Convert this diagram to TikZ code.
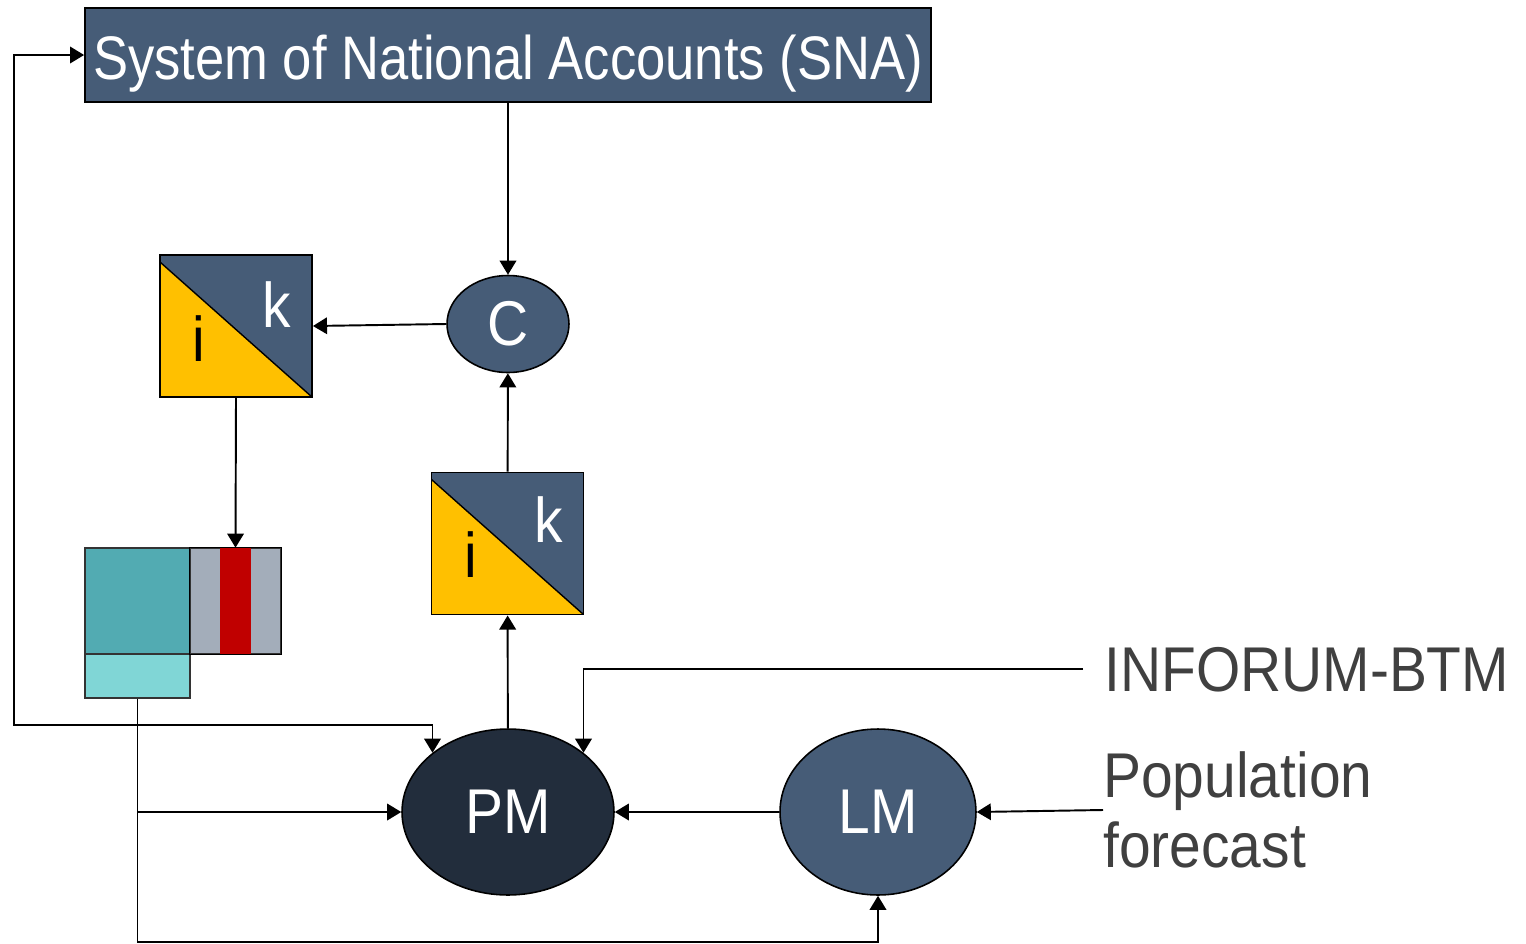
\documentclass[tikz,border=0pt]{standalone}
\usepackage{fontspec}
\setmainfont[FakeStretch=0.9]{Liberation Sans}
\newfontfamily\snafont[FakeStretch=0.855]{Liberation Sans}
\usepackage{xcolor}
\definecolor{SNAslate}{HTML}{465C77}
\definecolor{PMnavy}{HTML}{222D3C}
\definecolor{IKyellow}{HTML}{FFC000}
\definecolor{MATteal}{HTML}{52ABB2}
\definecolor{MATlight}{HTML}{80D6D6}
\definecolor{MATgray}{HTML}{A3ADBA}
\definecolor{MATred}{HTML}{C00000}
\definecolor{TXTgray}{HTML}{404040}
\usetikzlibrary{arrows.meta, shapes.geometric, positioning}

\tikzset{
  arr/.style={-{Triangle[length=8pt,width=9.4pt]}, line width=1.1pt},
  model/.style={ellipse, draw=black, line width=0.9pt, inner sep=0pt,
    text=white, font=\fontsize{36}{40}\selectfont},
  ikbox/.style={rectangle, draw=black, line width=1.1pt, fill=SNAslate,
    minimum width=3.04cm, minimum height=2.84cm,
    path picture={
      \fill[IKyellow] ([yshift=-0.14cm]path picture bounding box.north west)
        -- (path picture bounding box.south west)
        -- (path picture bounding box.south east) -- cycle;
      \draw[line width=0.8pt] ([yshift=-0.14cm]path picture bounding box.north west)
        -- (path picture bounding box.south east);}},
  letter/.style={inner sep=0pt, font=\fontsize{36}{40}\selectfont},
  matcell/.style={rectangle, draw=black!80, line width=0.8pt, inner sep=0pt},
  sidetext/.style={text=TXTgray, font=\fontsize{36}{40}\selectfont},
}

\begin{document}
\begin{tikzpicture}[x=0.02cm, y=-0.02cm]
    \useasboundingbox (0,0) rectangle (1526,944);
    % SNA
    \node[rectangle, draw=black, line width=1.1pt, fill=SNAslate, text=white,
      minimum width=16.92cm, minimum height=1.88cm, inner sep=0pt,
      text height=28pt, text depth=0pt,
      font=\snafont\fontsize{35}{40}\selectfont] (sna) at (508,55)
      {System of National Accounts (SNA)};
    % Models
    \node[model, fill=SNAslate, minimum width=2.44cm, minimum height=1.94cm] (cnode) at (508,324) {C};
    \node[model, fill=PMnavy, minimum width=4.24cm, minimum height=3.32cm] (pm) at (508,812) {PM};
    \node[model, fill=SNAslate, minimum width=3.92cm, minimum height=3.32cm] (lm) at (878,812) {LM};
    % i-k matrices
    \node[ikbox] (ikA) at (236,326) {};
    \node[letter, text=white] (ikAk) at (277,305) {k};
    \node[letter] (ikAi) at (199,339) {i};
    \node[ikbox] (ikB) at (507.5,543.5) {};
    \node[letter, text=white] (ikBk) at (549,520) {k};
    \node[letter] (ikBi) at (471,555) {i};
    % Data block
    \node[matcell, fill=MATteal, minimum width=2.1cm, minimum height=2.12cm] (matT) at (137.5,601) {};
    \node[matcell, fill=MATlight, minimum width=2.1cm, minimum height=0.88cm] (matL) at (137.5,676) {};
    \node[matcell, fill=MATgray, minimum width=1.82cm, minimum height=2.12cm] (matG) at (235.5,601) {};
    \node[rectangle, fill=MATred, inner sep=0pt, minimum width=0.62cm, minimum height=2.12cm] (red) at (235.5,601) {};
    \draw[black, line width=0.9pt] (matG.north west) rectangle (matG.south east);
    % Outside inputs
    \node[sidetext, anchor=west, inner sep=0pt, inner xsep=12pt, text height=25.8pt, text depth=0pt]
      (inforum) at (1083,669) {INFORUM-BTM};
    \node[sidetext, anchor=west, inner sep=0pt, align=left,
      font=\fontsize{36}{40}\selectfont] (pop) at (1103,810) {Population\\forecast};
    % Connectors
    \draw[arr] (sna) -- (cnode);
    \draw[arr] (cnode.west) -- (ikA.east);
    \draw[arr] (ikB) -- (cnode);
    \draw[arr] (pm) -- (ikB);
    \draw[arr] (ikA.south) -- (red.north);
    \draw[arr] (lm) -- (pm);
    \draw[arr] (pop.west) -- (lm.east);
    \draw[arr] (inforum.west) -| (pm.north east);
    % Feedback from the data block
    \coordinate (fbk) at (137.5,725);
    \coordinate (fbl) at (14,725);
    \coordinate (fbb) at (137.5,942);
    \draw[arr] (fbk) -- (fbl) |- (sna.west);
    \draw[arr] (fbk) -| (pm.north west);
    \draw[arr] (matL.south |- pm.west) -- (pm.west);
    \draw[arr] (matL.south) -- (fbb) -| (lm.south);
  \end{tikzpicture}
\end{document}
